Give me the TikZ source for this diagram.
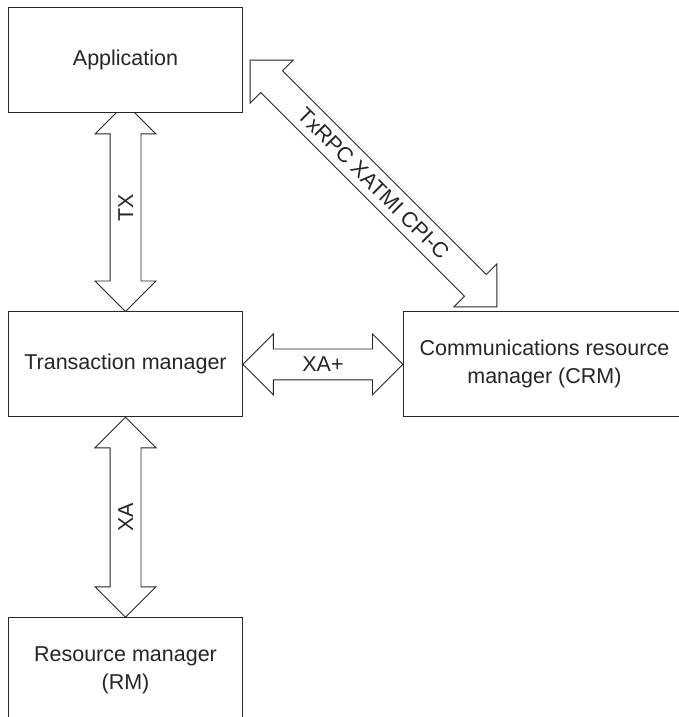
\documentclass[tikz,border=0pt]{standalone}
\usepackage{fontspec}
\setmainfont{Liberation Sans}
\usetikzlibrary{positioning,shapes.arrows,calc,backgrounds}

\begin{document}
\begin{tikzpicture}[x=1pt,y=1pt,
  font=\fontsize{21.5}{28}\selectfont,
  box/.style={draw=black!85,fill=white,text=black!85,line width=0.9pt,align=center,
    minimum width=234pt,minimum height=105pt,inner sep=0pt},
  link/.style={double arrow,draw=black!85,fill=white,text=black!85,line width=0.9pt,
    double arrow head extend=15pt,minimum width=60pt,
    text height=15pt,text depth=0pt,inner xsep=0pt,inner ysep=7.5pt},
  node distance=199pt and 160pt]
\useasboundingbox (0,0) rectangle (679,-717);
\clip (0,0) rectangle (679,-717);
% boxes
\node[box] (app) at (125.5,-59.5) {Application};
\node[box,below=of app] (tm) {Transaction manager};
\node[box,below=200pt of tm] (rm) {Resource manager\\(RM)};
\node[box,right=of tm,minimum width=282pt] (crm) {Communications resource\\manager (CRM)};
% interfaces, behind the boxes
\begin{scope}[on background layer]
\node[link,rotate=90,minimum height=208pt] (tx) at ($(tm.north)+(0,104)$) {TX};
\node[link,rotate=90,minimum height=200pt] (xa) at ($(tm.south)!0.5!(rm.north)$) {XA};
\node[link,minimum height=160pt] (xaplus) at ($(tm.east)!0.5!(crm.west)$) {XA+};
\node[link,rotate=-45,minimum height=349pt] (txrpc) at (373.5,-183.5) {TxRPC XATMI CPI-C};
\end{scope}
\end{tikzpicture}
\end{document}
